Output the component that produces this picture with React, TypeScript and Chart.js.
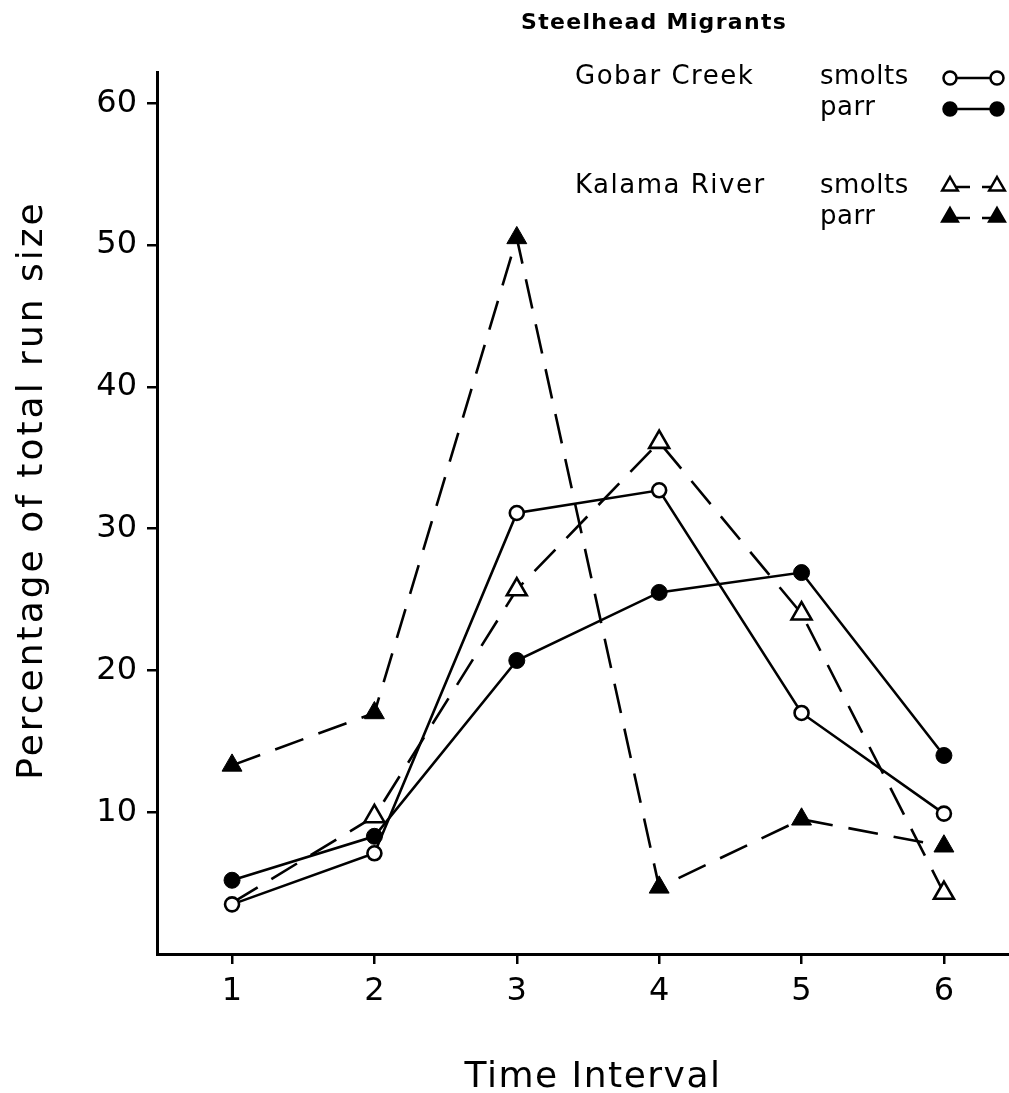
import { useEffect, useRef } from "react";
import { Chart, registerables } from "chart.js";

Chart.register(...registerables);

// ---- data ----
const intervals = [1, 2, 3, 4, 5, 6];
const gobarSmolts = [3.5, 7.1, 31.1, 32.7, 17.0, 9.9];
const gobarParr = [5.2, 8.3, 20.7, 25.5, 26.9, 14.0];
const kalamaSmolts = [3.6, 9.7, 25.7, 36.1, 24.0, 4.3];
const kalamaParr = [13.3, 17.0, 50.5, 4.7, 9.5, 7.6];
const xTickLabels = ["1", "2", "3", "4", "5", "6"];
const yTickValues = [10, 20, 30, 40, 50, 60];
const legendTitle = "Steelhead Migrants";
const siteNames = ["Gobar Creek", "Kalama River"];
const stageNames = ["smolts", "parr"];
const xTitle = "Time Interval";
const yTitle = "Percentage of total run size";

const FONT = '"DejaVu Sans", sans-serif';

const toPts = (vals: number[]) => intervals.map((x, i) => ({ x, y: vals[i] }));

const annotationPlugin = {
  id: "customAnnotations",
  afterDraw(chart: any) {
    const ctx: CanvasRenderingContext2D = chart.ctx;
    ctx.save();
    ctx.fillStyle = "#000";
    ctx.strokeStyle = "#000";
    ctx.textBaseline = "alphabetic";

    // axis titles
    ctx.font = `36px ${FONT}`;
    (ctx as any).letterSpacing = "1.5px";
    ctx.textAlign = "center";
    ctx.fillText(xTitle, 593, 1087);

    ctx.save();
    ctx.translate(42, 490);
    ctx.rotate(-Math.PI / 2);
    (ctx as any).letterSpacing = "3px";
    ctx.fillText(yTitle, 0, 0);
    ctx.restore();

    // legend
    ctx.textAlign = "left";
    ctx.font = `bold 22px ${FONT}`;
    (ctx as any).letterSpacing = "1.3px";
    ctx.fillText(legendTitle, 521, 29);

    ctx.font = `26px ${FONT}`;
    (ctx as any).letterSpacing = "1.5px";
    const groupBase = [84, 193];
    siteNames.forEach((site, gi) => {
      const b = groupBase[gi];
      ctx.fillText(site, 575, b);
      stageNames.forEach((stage, si) => {
        const by = b + si * 31;
        (ctx as any).letterSpacing = "0.5px";
        ctx.fillText(stage, 820, by);
        (ctx as any).letterSpacing = "1.5px";
        const cy = by - 6;
        const filled = si === 1;
        ctx.lineWidth = 2.5;
        ctx.beginPath();
        if (gi === 0) {
          ctx.moveTo(950, cy);
          ctx.lineTo(997, cy);
        } else {
          ctx.moveTo(950, cy);
          ctx.lineTo(970, cy);
          ctx.moveTo(982, cy);
          ctx.lineTo(995, cy);
        }
        ctx.stroke();
        [950, 997].forEach((px) => {
          ctx.beginPath();
          if (gi === 0) {
            ctx.arc(px, cy, 6.5, 0, Math.PI * 2);
          } else {
            const r = 9;
            const ty = cy - 1;
            ctx.moveTo(px, ty - r);
            ctx.lineTo(px + r * 0.866, ty + r * 0.5);
            ctx.lineTo(px - r * 0.866, ty + r * 0.5);
            ctx.closePath();
          }
          ctx.fillStyle = filled ? "#000" : "#fff";
          ctx.fill();
          ctx.lineWidth = 2.5;
          ctx.stroke();
          ctx.fillStyle = "#000";
        });
      });
    });
    ctx.restore();
  },
};

export default function App() {
  const ref = useRef<HTMLCanvasElement | null>(null);

  useEffect(() => {
    if (!ref.current) return;
    const common = {
      borderColor: "#000",
      pointBorderColor: "#000",
      borderWidth: 2.6,
      pointBorderWidth: 2.6,
      tension: 0,
      fill: false,
    };
    const chart = new Chart(ref.current, {
      type: "line",
      data: {
        datasets: [
          {
            ...common,
            label: "Gobar Creek smolts",
            data: toPts(gobarSmolts),
            pointStyle: "circle",
            pointRadius: 7,
            pointBackgroundColor: "#fff",
          },
          {
            ...common,
            label: "Gobar Creek parr",
            data: toPts(gobarParr),
            pointStyle: "circle",
            pointRadius: 8,
            pointBorderWidth: 1,
            pointBackgroundColor: "#000",
          },
          {
            ...common,
            label: "Kalama River smolts",
            data: toPts(kalamaSmolts),
            borderDash: [30, 16],
            pointStyle: "triangle",
            pointRadius: [0, 11.5, 11.5, 11.5, 11.5, 11.5],
            pointBackgroundColor: "#fff",
          },
          {
            ...common,
            label: "Kalama River parr",
            data: toPts(kalamaParr),
            borderDash: [30, 16],
            pointStyle: "triangle",
            pointRadius: 11.5,
            pointBorderWidth: 1,
            pointBackgroundColor: "#000",
          },
        ],
      },
      options: {
        responsive: false,
        animation: false,
        devicePixelRatio: 1,
        layout: { autoPadding: false, padding: { top: 72, right: 1, left: 0, bottom: 0 } },
        plugins: { legend: { display: false }, tooltip: { enabled: false }, title: { display: false } },
        scales: {
          x: {
            type: "linear",
            min: 0.473,
            max: 6.45,
            afterFit: (s: any) => {
              s.height = 139;
            },
            border: { display: true, color: "#000", width: 3 },
            grid: { display: true, drawOnChartArea: false, drawTicks: true, tickLength: 10, color: "#000", lineWidth: 2.5 },
            ticks: {
              stepSize: 1,
              includeBounds: false,
              color: "#000",
              padding: 8,
              maxRotation: 0,
              autoSkip: false,
              font: { family: FONT, size: 32 },
              callback: (v: any) => {
                const i = intervals.indexOf(Number(v));
                return i >= 0 ? xTickLabels[i] : "";
              },
            },
          },
          y: {
            type: "linear",
            min: 0,
            max: 62.2,
            afterFit: (s: any) => {
              s.width = 157;
            },
            border: { display: true, color: "#000", width: 3 },
            grid: {
              display: true,
              drawOnChartArea: false,
              drawTicks: true,
              tickLength: 10,
              color: (c: any) => (yTickValues.includes(c.tick?.value) ? "#000" : "rgba(0,0,0,0)"),
              lineWidth: 2.5,
            },
            ticks: {
              stepSize: 10,
              includeBounds: false,
              color: "#000",
              padding: 10,
              font: { family: FONT, size: 32 },
              callback: (v: any) => (yTickValues.includes(Number(v)) ? String(v) : ""),
            },
          },
        },
      },
      plugins: [annotationPlugin],
    });
    return () => chart.destroy();
  }, []);

  return (
    <div style={{ position: "absolute", left: 0, top: 0, width: 1009, height: 1093, background: "#fff" }}>
      <canvas ref={ref} width={1009} height={1093} style={{ width: 1009, height: 1093, display: "block" }} />
    </div>
  );
}
